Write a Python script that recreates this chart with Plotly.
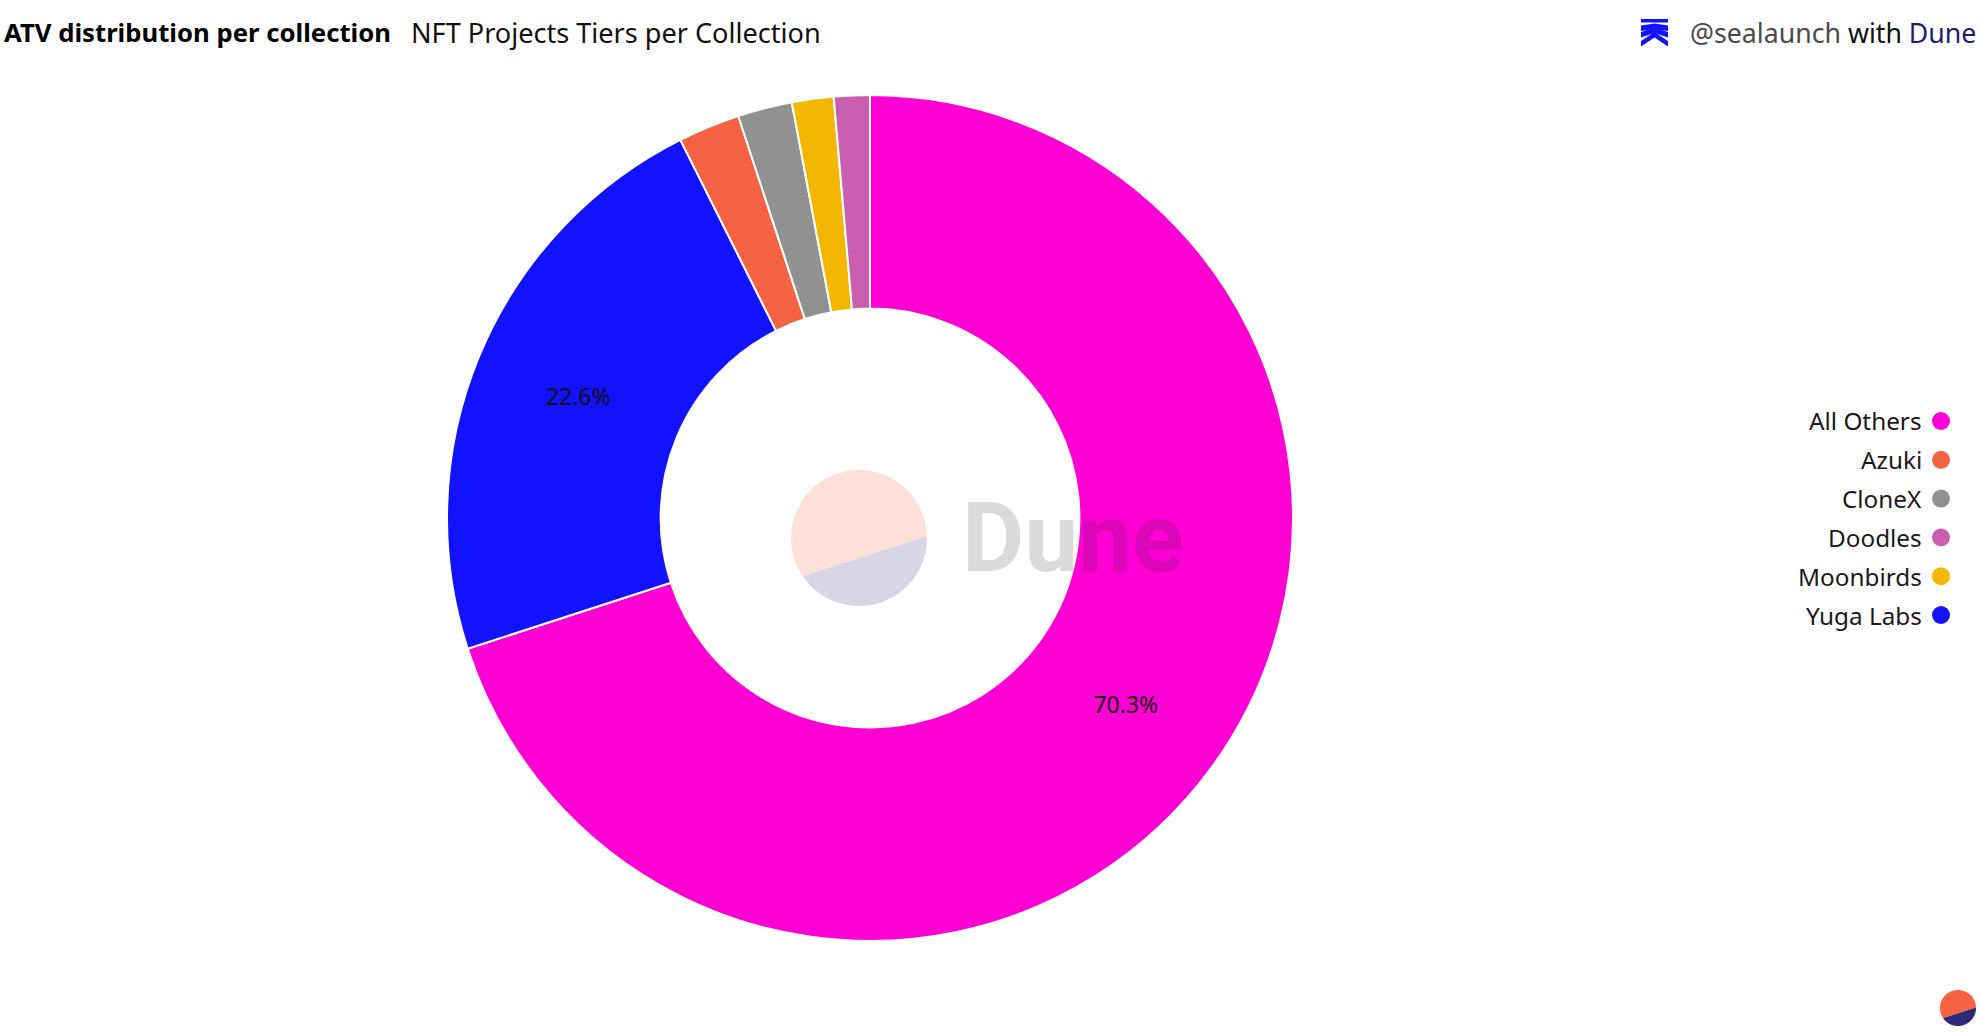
import numpy as np
import plotly.graph_objects as go

W, H = 1980, 1034
FONT = "Noto Sans"

categories = ["All Others", "Yuga Labs", "Azuki", "CloneX", "Moonbirds", "Doodles"]
values = [70.0, 22.6, 2.36, 2.08, 1.59, 1.37]
slice_labels = ["70.3%", "22.6%", "", "", "", ""]
colors = ["#ff00d4", "#1212ff", "#f56342", "#919191", "#f4b700", "#c95fae"]
legend_order = ["All Others", "Azuki", "CloneX", "Doodles", "Moonbirds", "Yuga Labs"]


def px(x):
    return x / W


def py(y):
    return 1 - y / H


def poly(points):
    return "M" + "L".join(f"{px(x):.5f},{py(y):.5f}" for x, y in points) + "Z"


def paper_shape(path, col):
    return dict(type="path", path=path, xref="paper", yref="paper",
                fillcolor=col, line=dict(width=0), layer="above")


def dune_logo(cx, cy, r, top, bottom):
    """Disc cut by a tilted chord that sits below the centre."""
    shapes = []
    for col, a0, a1 in ((top, 145.8, 358.6), (bottom, -1.4, 145.8)):
        t = np.radians(np.linspace(a0, a1, 70))
        pts = [(cx + r * np.cos(a), cy + r * np.sin(a)) for a in t]
        shapes.append(paper_shape(poly(pts), col))
    return shapes


cx, cy, R = 870, 518, 423
fig = go.Figure(go.Pie(
    labels=categories, values=values, text=slice_labels,
    textinfo="text", textposition="inside", insidetextorientation="horizontal",
    textfont=dict(family=FONT, size=23, color="#111111"),
    hole=0.495, sort=False, direction="clockwise", rotation=0,
    marker=dict(colors=colors, line=dict(color="#ffffff", width=2)),
    domain=dict(x=[px(cx - R), px(cx + R)], y=[py(cy + R), py(cy - R)]),
    showlegend=False, hoverinfo="label+percent",
))

shapes = []
shapes += dune_logo(859, 538, 68, "#fde0da", "#d6d6e5")
shapes += dune_logo(1958, 1008, 18, "#f56342", "#2c2a75")

# top-right seal logo
blue = "#1212ff"
shapes.append(paper_shape(poly([(1641, 19), (1668, 19), (1668, 22.5), (1641, 22.5)]), blue))
for apex, outer in ((23.5, 25.5), (27.5, 32), (32, 41)):
    shapes.append(paper_shape(
        poly([(1641, outer), (1654.5, apex), (1668, outer), (1668, outer + 5.5),
              (1654.5, apex + 5.5), (1641, outer + 5.5)]), blue))

annotations = [
    dict(x=px(4), y=py(33), text="<b>ATV distribution per collection</b>", xanchor="left",
         font=dict(size=25.7, color="#000000")),
    dict(x=px(411), y=py(33), text="NFT Projects Tiers per Collection", xanchor="left",
         font=dict(size=27.1, color="#111111")),
    dict(x=px(1976), y=py(33),
         text='<span style="color:#4a4a4a">@sealaunch</span> <span style="color:#111111">with</span> '
              '<span style="color:#1f1a75">Dune</span>',
         xanchor="right", font=dict(size=26.7)),
    dict(x=px(962), y=py(538), text="<b>Dune</b>", xanchor="left",
         font=dict(family="Roboto", size=96, color="rgba(40,40,40,0.17)")),
]

row_y0, row_dy = 421, 38.8
for i, name in enumerate(legend_order):
    y = row_y0 + i * row_dy
    annotations.append(dict(x=px(1922), y=py(y), text=name, xanchor="right",
                            font=dict(size=24.3, color="#1a1a1a")))
    col = colors[categories.index(name)]
    shapes.append(dict(type="circle", xref="paper", yref="paper",
                       x0=px(1932), x1=px(1950), y0=py(y + 9), y1=py(y - 9),
                       fillcolor=col, line=dict(width=0)))

for a in annotations:
    a.update(xref="paper", yref="paper", showarrow=False, yanchor="middle",
             borderpad=0, borderwidth=0)

fig.update_layout(
    width=W, height=H, margin=dict(l=0, r=0, t=0, b=0),
    paper_bgcolor="#ffffff", plot_bgcolor="#ffffff",
    font=dict(family=FONT), showlegend=False,
    shapes=shapes, annotations=annotations,
)
fig.write_html("out.html", config=dict(displayModeBar=False),
               post_script="document.body.style.margin='0';document.documentElement.style.overflow='hidden';")
